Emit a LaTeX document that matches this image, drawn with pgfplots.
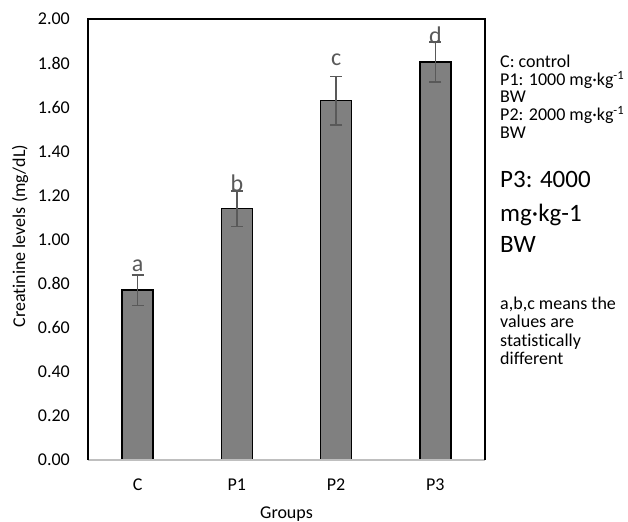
\documentclass[border=0pt]{standalone}
\usepackage{pgfplots}
\pgfplotsset{compat=1.18}
\usepackage{fontspec}
\setmainfont{Carlito}[Ligatures=NoCommon]
\definecolor{barfill}{HTML}{808080}
\definecolor{errc}{HTML}{595959}
\definecolor{bottomline}{HTML}{BFBFBF}
\newcommand{\sm}{\fontsize{18bp}{21bp}\selectfont}
\newcommand{\bg}{\fontsize{25bp}{30bp}\selectfont}
\newcommand{\lt}{\fontsize{24bp}{28bp}\selectfont}
\begin{document}
\begin{tikzpicture}
\useasboundingbox (0,0) rectangle (628bp,522bp);
\begin{axis}[
  at={(88bp,62bp)}, anchor=south west,
  scale only axis, width=397bp, height=441bp,
  xmin=-0.5, xmax=3.5, ymin=0, ymax=2,
  ybar, bar width=31bp,
  axis line style={draw=none},
  clip=false,
  ytick={0,0.2,0.4,0.6,0.8,1.0,1.2,1.4,1.6,1.8,2.0},
  xtick={0,1,2,3}, xticklabels={C,P1,P2,P3},
  major tick length=0pt,
  tick label style={font=\sm},
  /pgf/number format/assume math mode=true,
  yticklabel style={/pgf/number format/fixed, /pgf/number format/fixed zerofill, /pgf/number format/precision=2, anchor=east, inner sep=0pt, xshift=-18bp},
  xticklabel style={anchor=base, inner sep=0pt, yshift=-30bp},
]
\addplot[fill=barfill, draw=black, line width=1.5bp,
  error bars/.cd, y dir=both, y explicit,
  error bar style={errc, line width=1.5bp},
  error mark options={rotate=90, mark size=6bp, errc, line width=1.5bp}]
coordinates {
  (0,0.77) +- (0,0.07)
  (1,1.14) +- (0,0.08)
  (2,1.63) +- (0,0.11)
  (3,1.805) +- (0,0.09)
};
\draw[bottomline, line width=1.5bp] (rel axis cs:0,0) -- (rel axis cs:1,0);
\draw[black, line width=1.5bp] (rel axis cs:0,0) -- (rel axis cs:0,1) -- (rel axis cs:1,1) -- (rel axis cs:1,0);
\node[anchor=base, font=\lt, text=errc, inner sep=0pt] at (axis cs:0,0.854) {a};
\node[anchor=base, font=\lt, text=errc, inner sep=0pt] at (axis cs:1,1.217) {b};
\node[anchor=base, font=\lt, text=errc, inner sep=0pt] at (axis cs:2,1.791) {c};
\node[anchor=base, font=\lt, text=errc, inner sep=0pt] at (axis cs:3,1.891) {d};
\end{axis}
\node[rotate=90, font=\sm, anchor=center] at (20bp,286bp) {Creatinine levels (mg/dL)};
\node[anchor=base, font=\sm, inner sep=0pt] at (286.5bp,3.3bp) {Groups};
\begin{scope}[every node/.style={anchor=base west, inner sep=0pt, font=\sm}]
\node at (500bp,454bp) {C: control};
\node at (500bp,436bp) {P1: 1000 mg·kg\textsuperscript{-1}};
\node at (500bp,419bp) {BW};
\node at (500bp,401bp) {P2: 2000 mg·kg\textsuperscript{-1}};
\node at (500bp,383bp) {BW};
\node[font=\bg] at (500bp,334bp) {P3: 4000};
\node[font=\bg] at (500bp,300.3bp) {mg·kg-1};
\node[font=\bg] at (500bp,269bp) {BW};
\node at (500bp,212bp) {a,b,c means the};
\node at (500bp,194bp) {values are};
\node at (500bp,175.3bp) {statistically};
\node at (500bp,157bp) {different};
\end{scope}
\end{tikzpicture}
\end{document}
